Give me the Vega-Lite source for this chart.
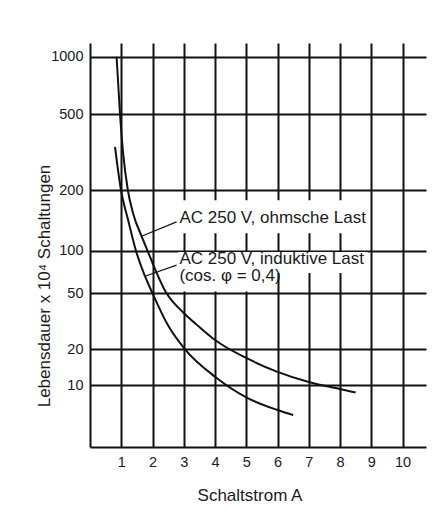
{
  "$schema": "https://vega.github.io/schema/vega-lite/v6.json",
  "width": 336,
  "height": 404,
  "autosize": {"type": "none"},
  "padding": {"left": 90, "top": 43, "right": 20, "bottom": 82},
  "background": "white",
  "config": {
    "view": {"stroke": null},
    "font": "Liberation Sans",
    "axis": {
      "grid": true,
      "gridColor": "#111111",
      "gridWidth": 2,
      "gridOpacity": 1,
      "domain": true,
      "domainColor": "#111111",
      "domainWidth": 2,
      "ticks": false,
      "tickSize": 0,
      "labelColor": "#1a1a1a",
      "labelFontSize": 14.5,
      "labelFont": "Liberation Sans",
      "titleColor": "#1a1a1a",
      "titleFont": "Liberation Sans",
      "titleFontSize": 17,
      "titleFontWeight": "normal"
    }
  },
  "datasets": {
    "curves": [
      {"series": "ohmsche Last", "I": 0.85, "L": 1000},
      {"series": "ohmsche Last", "I": 0.96, "L": 500},
      {"series": "ohmsche Last", "I": 1.05, "L": 324},
      {"series": "ohmsche Last", "I": 1.21, "L": 200},
      {"series": "ohmsche Last", "I": 1.375, "L": 154},
      {"series": "ohmsche Last", "I": 1.65, "L": 118},
      {"series": "ohmsche Last", "I": 1.84, "L": 100},
      {"series": "ohmsche Last", "I": 2.45, "L": 50},
      {"series": "ohmsche Last", "I": 3.0, "L": 36.2},
      {"series": "ohmsche Last", "I": 3.5, "L": 28.8},
      {"series": "ohmsche Last", "I": 4.0, "L": 23.3},
      {"series": "ohmsche Last", "I": 5.0, "L": 16.9},
      {"series": "ohmsche Last", "I": 6.0, "L": 12.9},
      {"series": "ohmsche Last", "I": 7.0, "L": 10.6},
      {"series": "ohmsche Last", "I": 8.0, "L": 9.25},
      {"series": "ohmsche Last", "I": 8.5, "L": 8.64},
      {"series": "induktive Last", "I": 0.8, "L": 336},
      {"series": "induktive Last", "I": 0.99, "L": 200},
      {"series": "induktive Last", "I": 1.22, "L": 142},
      {"series": "induktive Last", "I": 1.47, "L": 100},
      {"series": "induktive Last", "I": 1.76, "L": 66},
      {"series": "induktive Last", "I": 2.0, "L": 50},
      {"series": "induktive Last", "I": 2.5, "L": 29.5},
      {"series": "induktive Last", "I": 3.04, "L": 20},
      {"series": "induktive Last", "I": 4.0, "L": 11.75},
      {"series": "induktive Last", "I": 5.0, "L": 7.87},
      {"series": "induktive Last", "I": 6.0, "L": 6.15},
      {"series": "induktive Last", "I": 6.5, "L": 5.58}
    ],
    "leaders": [
      {"id": "ohmsche Last", "I": 2.77, "L": 139},
      {"id": "ohmsche Last", "I": 1.65, "L": 118},
      {"id": "induktive Last", "I": 2.77, "L": 79},
      {"id": "induktive Last", "I": 1.76, "L": 66}
    ],
    "boxes": [
      {"I": 2.82, "I2": 8.9, "L": 122, "L2": 178},
      {"I": 2.82, "I2": 8.88, "L": 69.5, "L2": 98},
      {"I": 2.82, "I2": 5.96, "L": 51.5, "L2": 69.5}
    ],
    "labels": [
      {"text": "AC 250 V, ohmsche Last", "I": 2.86, "L": 136.7},
      {"text": "AC 250 V, induktive Last", "I": 2.86, "L": 80.6},
      {"text": "(cos. φ = 0,4)", "I": 2.86, "L": 60.6}
    ]
  },
  "encoding": {
    "x": {
      "field": "I",
      "type": "quantitative",
      "scale": {"domain": [0, 10.75], "nice": false, "zero": false},
      "axis": {
        "values": [1, 2, 3, 4, 5, 6, 7, 8, 9, 10],
        "title": "Schaltstrom A",
        "labelBaseline": "alphabetic",
        "labelPadding": 19,
        "titleX": 159.5,
        "titleY": 53.7,
        "titleBaseline": "alphabetic",
        "titleAlign": "center"
      }
    },
    "y": {
      "field": "L",
      "type": "quantitative",
      "scale": {
        "type": "log",
        "domain": [3, 10, 20, 50, 100, 200, 500, 1000, 1180],
        "range": [404, 342, 306.3, 250.3, 207.7, 147, 71, 13.7, 0],
        "nice": false
      },
      "axis": {
        "values": [10, 20, 50, 100, 200, 500, 1000],
        "format": "d",
        "title": "Lebensdauer x 10⁴ Schaltungen",
        "labelPadding": 7,
        "titleAngle": -90,
        "titleX": -40.7,
        "titleY": 242.5,
        "titleBaseline": "alphabetic",
        "titleAlign": "center"
      }
    }
  },
  "layer": [
    {
      "data": {"name": "boxes"},
      "mark": {"type": "rect", "fill": "white", "stroke": null},
      "encoding": {
        "x2": {"field": "I2"},
        "y2": {"field": "L2"}
      }
    },
    {
      "data": {"name": "curves"},
      "mark": {"type": "line", "color": "#111111", "strokeWidth": 2, "interpolate": "monotone"},
      "encoding": {"detail": {"field": "series"}}
    },
    {
      "data": {"name": "leaders"},
      "mark": {"type": "line", "color": "#111111", "strokeWidth": 1.2},
      "encoding": {"detail": {"field": "id"}}
    },
    {
      "data": {"name": "labels"},
      "mark": {"type": "text", "align": "left", "baseline": "alphabetic", "font": "Liberation Sans", "fontSize": 17, "color": "#1a1a1a"},
      "encoding": {"text": {"field": "text"}}
    }
  ]
}
